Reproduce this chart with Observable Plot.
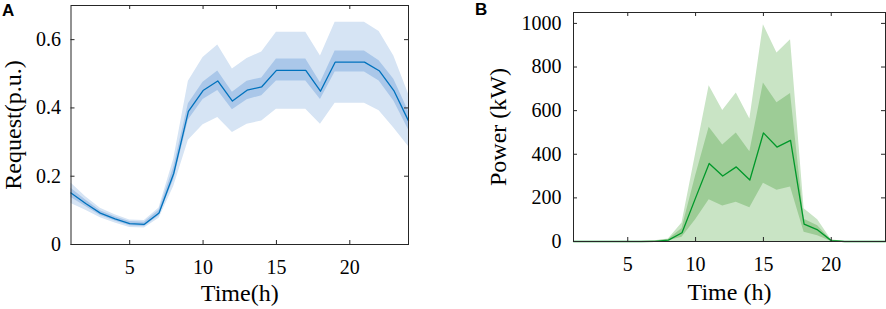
<!DOCTYPE html>
<html>
<head>
<meta charset="utf-8">
<script src="https://cdn.jsdelivr.net/npm/d3@7"></script>
<script src="https://cdn.jsdelivr.net/npm/@observablehq/plot@0.6"></script>
<style>
  body { margin: 0; background: #fff; }
  #wrap { position: relative; width: 886px; height: 309px; overflow: hidden; }
  .panel { position: absolute; top: 0; }
  .tag { position: absolute; font-family: "Liberation Sans", Arial, sans-serif; font-weight: bold; font-size: 17px; line-height: 1; }
</style>
</head>
<body>
<div id="wrap">
  <div class="panel" id="pa" style="left:0px"></div>
  <div class="panel" id="pb" style="left:440px"></div>
  <div class="tag" style="left:2px;top:2px">A</div>
  <div class="tag" style="left:475px;top:1px">B</div>
</div>
<script>
// ---- data ----
const hours = [1,2,3,4,5,6,7,8,9,10,11,12,13,14,15,16,17,18,19,20,21,22,23,24];

// Panel A: Request (p.u.)
const reqMean    = [0.151,0.120,0.092,0.075,0.061,0.059,0.092,0.208,0.390,0.451,0.479,0.420,0.452,0.462,0.510,0.510,0.510,0.449,0.534,0.534,0.534,0.509,0.451,0.362];
const reqDarkLo  = [0.138,0.111,0.085,0.069,0.055,0.053,0.084,0.190,0.365,0.425,0.451,0.395,0.424,0.436,0.479,0.479,0.479,0.425,0.505,0.505,0.505,0.479,0.420,0.336];
const reqDarkHi  = [0.165,0.130,0.099,0.081,0.067,0.065,0.100,0.226,0.412,0.475,0.508,0.446,0.478,0.488,0.543,0.543,0.543,0.474,0.567,0.567,0.567,0.538,0.484,0.390];
const reqLightLo = [0.120,0.100,0.078,0.063,0.050,0.048,0.077,0.170,0.305,0.351,0.372,0.328,0.352,0.362,0.396,0.396,0.396,0.352,0.414,0.414,0.414,0.392,0.341,0.287];
const reqLightHi = [0.180,0.140,0.106,0.087,0.072,0.070,0.107,0.250,0.478,0.548,0.584,0.514,0.545,0.564,0.622,0.622,0.622,0.552,0.651,0.651,0.651,0.624,0.552,0.441];

// Panel B: Power (kW)
const powMean    = [0,0,0,0,0,0,1,6,40,200,358,300,342,282,498,433,464,80,53,4,0,0,0,0];
const powDarkLo  = [0,0,0,0,0,0,0,3,20,100,191,163,180,155,267,235,250,42,26,0,0,0,0,0];
const powDarkHi  = [0,0,0,0,0,0,2,9,60,300,524,442,498,412,727,636,679,102,72,6,0,0,0,0];
const powLightLo = [0,0,0,0,0,0,0,0,0,0,0,0,0,0,0,0,0,0,0,0,0,0,0,0];
const powLightHi = [0,0,0,0,0,0,3,12,85,400,714,601,681,562,994,864,925,150,100,8,0,0,0,0];

const xTicks = [5,10,15,20];
const yTicksA = [0,0.2,0.4,0.6];
const yTicksB = [0,200,400,600,800,1000];

const rowsA = hours.map((h,i) => ({h, m: reqMean[i], dl: reqDarkLo[i], dh: reqDarkHi[i], ll: reqLightLo[i], lh: reqLightHi[i]}));
const rowsB = hours.map((h,i) => ({h, m: powMean[i], dl: powDarkLo[i], dh: powDarkHi[i], ll: powLightLo[i], lh: powLightHi[i]}));

const axisColor = "#262626";
const serif = "Liberation Serif";
const fmtA = d => d === 0 ? "0" : String(d);

function boxAxes(cfg) {
  const {xt, yt, yfmt, xlabel, ylabel, pw, ph, xdy, ydx, yPad} = cfg;
  const tl = 4;
  return [
    Plot.axisX(xt, {anchor: "bottom", tickSize: 0, tickPadding: 15, fontSize: 20, fontFamily: serif, fill: "#000", label: null}),
    Plot.axisY(yt, {anchor: "left", tickSize: 0, tickPadding: yPad, fontSize: 20, fontFamily: serif, fill: "#000", tickFormat: yfmt, label: null}),
    // inward ticks on all four sides
    Plot.tickX(xt, {x: d => d, insetTop: ph - tl, stroke: axisColor}),
    Plot.tickX(xt, {x: d => d, insetBottom: ph - tl, stroke: axisColor}),
    Plot.tickY(yt, {y: d => d, insetRight: pw - tl, stroke: axisColor}),
    Plot.tickY(yt, {y: d => d, insetLeft: pw - tl, stroke: axisColor}),
    Plot.frame({stroke: axisColor, strokeWidth: 1}),
    Plot.text([xlabel], {text: d => d, frameAnchor: "bottom", dy: xdy, textAnchor: "middle", lineAnchor: "middle", fontSize: 24, fontFamily: serif, fill: "#000"}),
    Plot.text([ylabel], {text: d => d, frameAnchor: "left", dx: ydx, rotate: -90, textAnchor: "middle", lineAnchor: "middle", fontSize: 24, fontFamily: serif, fill: "#000"})
  ];
}

const chartA = Plot.plot({
  width: 440, height: 309,
  marginLeft: 70.5, marginRight: 32, marginTop: 5, marginBottom: 65,
  x: {domain: [1, 24]},
  y: {domain: [0, 0.7]},
  style: {background: "white"},
  marks: [
    Plot.areaY(rowsA, {x: "h", y1: "ll", y2: "lh", fill: "#d6e4f4"}),
    Plot.areaY(rowsA, {x: "h", y1: "dl", y2: "dh", fill: "#aac7e9"}),
    Plot.lineY(rowsA, {x: "h", y: "m", stroke: "#0072bd", strokeWidth: 1.3}),
    ...boxAxes({xt: xTicks, yt: yTicksA, yfmt: fmtA, xlabel: "Time(h)", ylabel: "Request(p.u.)",
                pw: 440 - 70.5 - 32, ph: 309 - 5 - 65, xdy: 49, ydx: -58, yPad: 10})
  ]
});

const chartB = Plot.plot({
  width: 446, height: 309,
  marginLeft: 133, marginRight: 1, marginTop: 12, marginBottom: 68,
  x: {domain: [1, 24]},
  y: {domain: [0, 1050]},
  style: {background: "white"},
  marks: [
    Plot.areaY(rowsB, {x: "h", y1: "ll", y2: "lh", fill: "#c9e4c5"}),
    Plot.areaY(rowsB, {x: "h", y1: "dl", y2: "dh", fill: "#9dcc96"}),
    Plot.lineY(rowsB, {x: "h", y: "m", stroke: "#00982a", strokeWidth: 1.3}),
    ...boxAxes({xt: xTicks, yt: yTicksB, yfmt: d => String(d), xlabel: "Time (h)", ylabel: "Power (kW)",
                pw: 446 - 133 - 1, ph: 309 - 12 - 68, xdy: 51, ydx: -75, yPad: 12})
  ]
});

for (const c of [chartA, chartB]) {
  d3.select(c).selectAll("text").style("font-family", "'Liberation Serif', 'Times New Roman', serif").style("fill", "#000");
}

document.getElementById("pa").appendChild(chartA);
document.getElementById("pb").appendChild(chartB);
</script>
</body>
</html>
